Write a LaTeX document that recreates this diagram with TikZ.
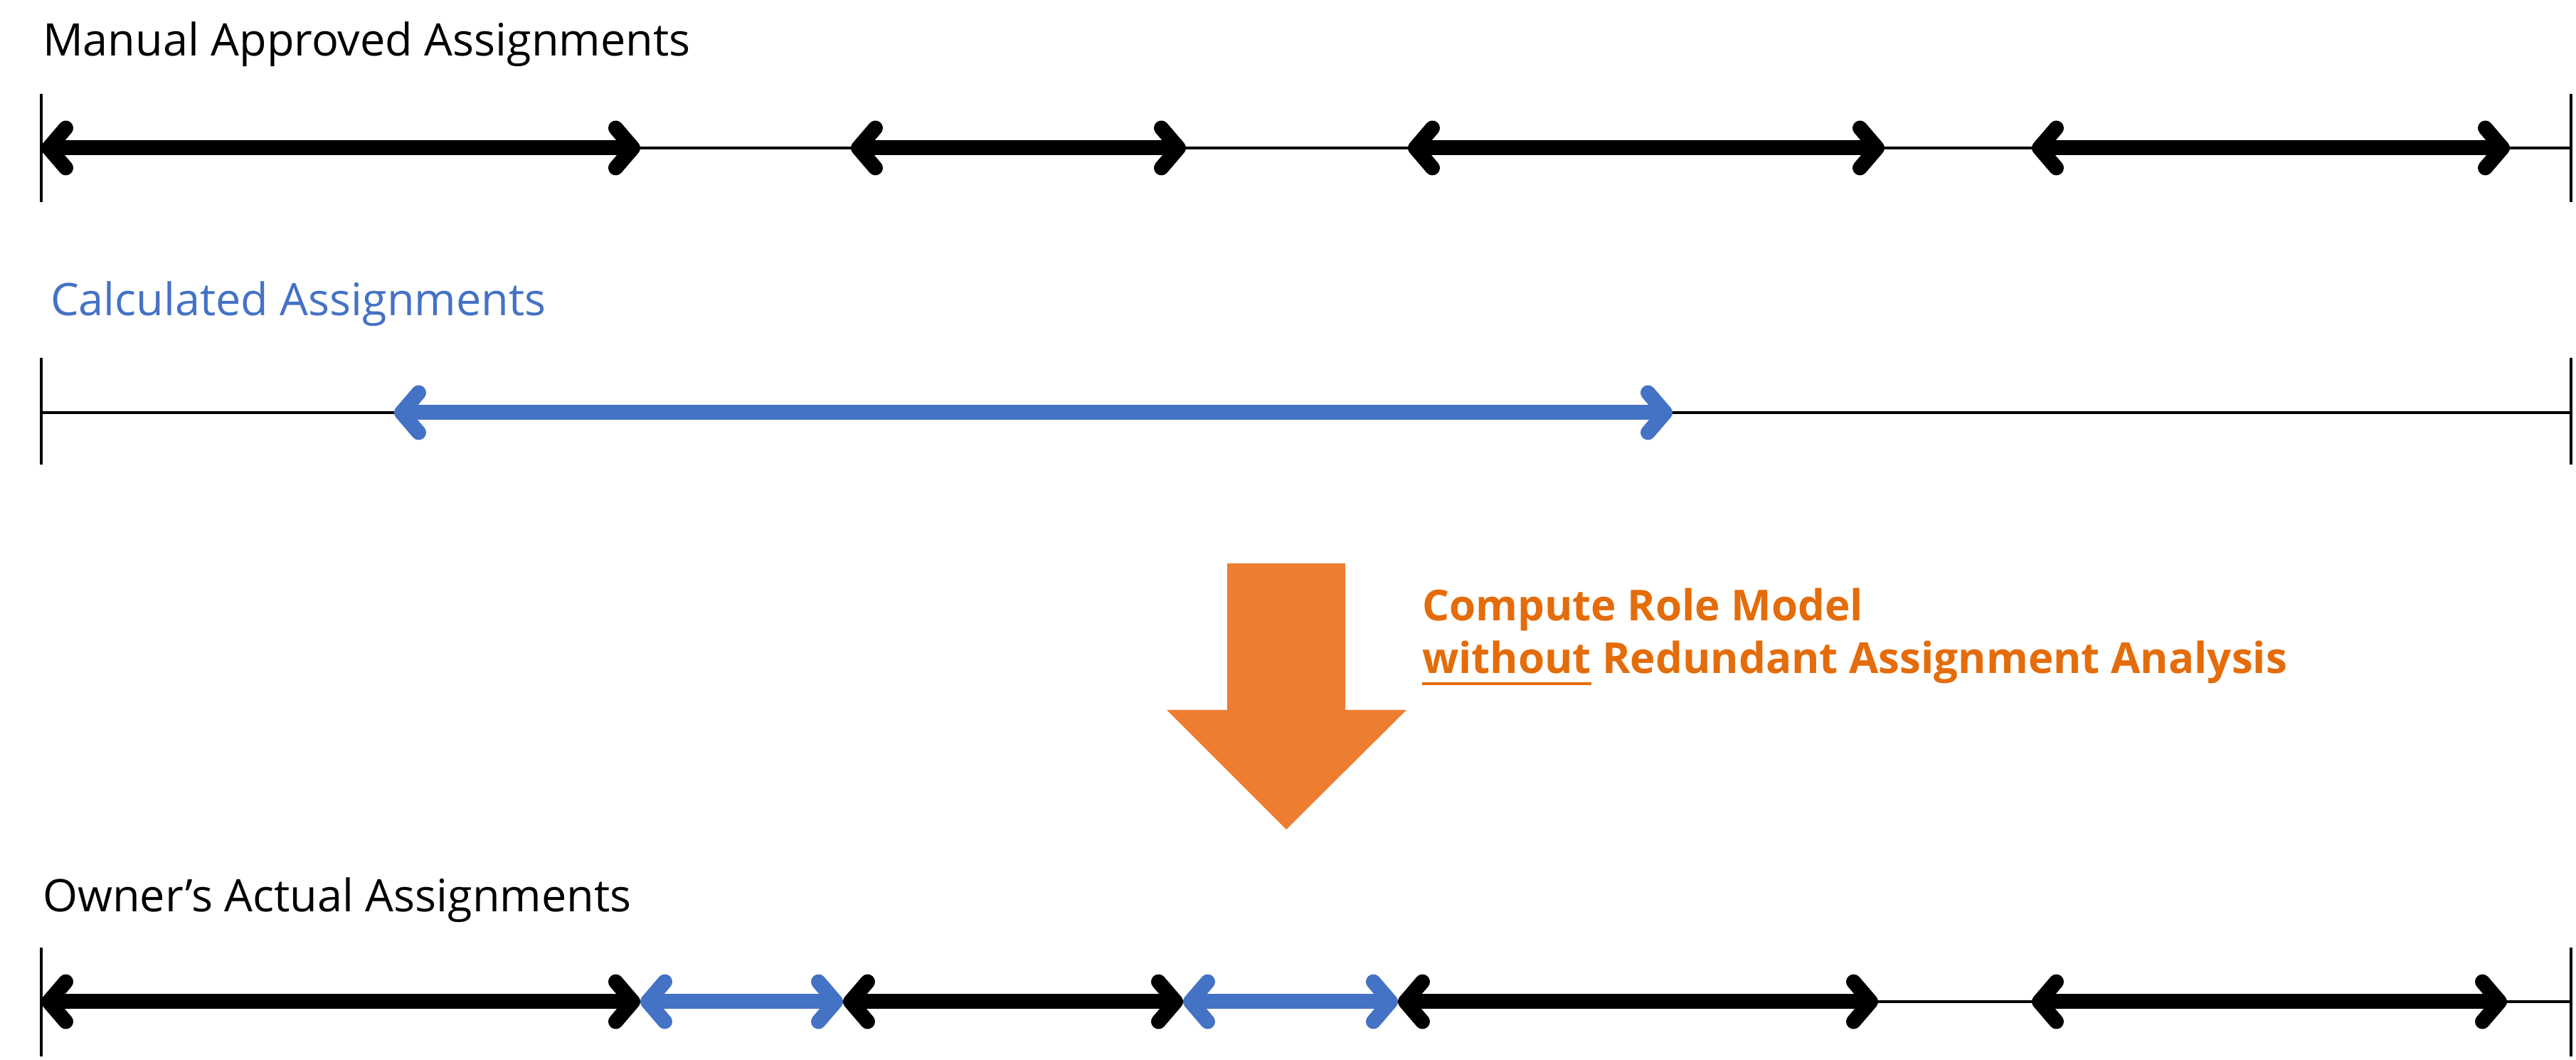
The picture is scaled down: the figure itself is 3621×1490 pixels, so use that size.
\documentclass[tikz,border=0pt]{standalone}
\usepackage{fontspec}
\setmainfont{Open Sans}
\usetikzlibrary{arrows.meta}
\definecolor{cblue}{HTML}{4472C4}
\definecolor{corange}{HTML}{ED7D31}
\definecolor{tor}{HTML}{E46C0A}
\begin{document}
\begin{tikzpicture}[x=0.1pt,y=-0.1pt,
  thin line/.style={line width=0.4pt,black},
  tick/.style={line width=0.45pt,black},
  seg/.style={line width=2.1pt,line cap=round,{Straight Barb[length=2.4pt,width=5.6pt,line cap=round,round]}-{Straight Barb[length=2.4pt,width=5.6pt,line cap=round,round]}},
  bseg/.style={seg,black},
  cseg/.style={seg,cblue},
  lbl/.style={anchor=west,font=\fontsize{6.3}{8}\selectfont,inner sep=0pt}]
\useasboundingbox (0,0) rectangle (3621,1490);
% row 1
\node[lbl] (t1) at (58,62) {Manual Approved Assignments};
\foreach \n/\x in {a0/58,a1/900,a2/1196,a3/1667,a4/1979,a5/2649,a6/2856,a7/3528,a8/3614}{\coordinate (\n) at (\x,208);}
\draw[tick] (58,132) -- (58,284);
\draw[tick] (3614,132) -- (3614,284);
\draw[thin line] (a0) -- (a8);
\draw[bseg] (a0) -- (a1);
\draw[bseg] (a2) -- (a3);
\draw[bseg] (a4) -- (a5);
\draw[bseg] (a6) -- (a7);
% row 2
\node[lbl,text=cblue] (t2) at (69,427) {Calculated Assignments};
\foreach \n/\x in {b0/58,b1/554,b2/2351,b3/3614}{\coordinate (\n) at (\x,580);}
\draw[tick] (58,503) -- (58,653);
\draw[tick] (3614,503) -- (3614,653);
\draw[thin line] (b0) -- (b3);
\draw[cseg] (b1) -- (b2);
% orange arrow
\fill[corange] (1725,792) -- (1891,792) -- (1891,998) -- (1977,998) -- (1808,1166) -- (1640,998) -- (1725,998) -- cycle;
\node[lbl,text=tor,font=\bfseries\fontsize{6.0}{7.4}\selectfont,align=left,anchor=north west] (t3) at (1997,825)
  {Compute Role Model\\\underline{without} Redundant Assignment Analysis};
% row 3
\node[lbl] (t4) at (58,1265) {Owner’s Actual Assignments};
\foreach \n/\x in {c0/58,c1/900,c2/1185,c3/1663,c4/1965,c5/2640,c6/2856,c7/3524,c8/3614}{\coordinate (\n) at (\x,1408);}
\draw[tick] (58,1332) -- (58,1485);
\draw[tick] (3614,1332) -- (3614,1485);
\draw[thin line] (c0) -- (c8);
\draw[bseg] (c0) -- (c1);
\draw[cseg] (c1) -- (c2);
\draw[bseg] (c2) -- (c3);
\draw[cseg] (c3) -- (c4);
\draw[bseg] (c4) -- (c5);
\draw[bseg] (c6) -- (c7);
\end{tikzpicture}
\end{document}
